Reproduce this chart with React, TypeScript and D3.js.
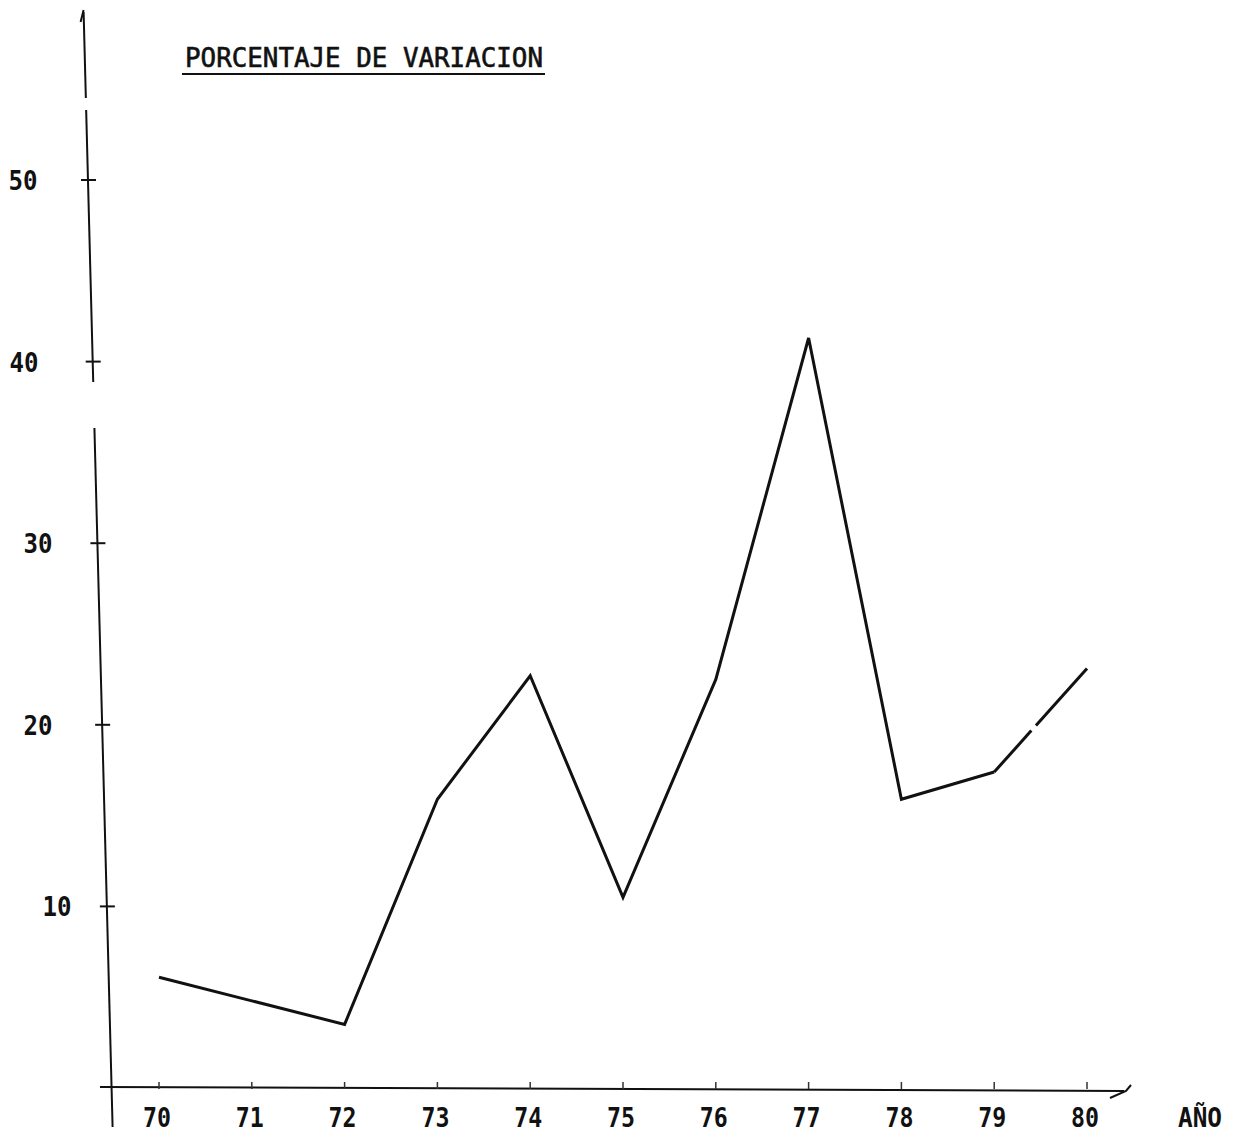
import React from "react";
import * as d3 from "d3";

const years = [70, 71, 72, 73, 74, 75, 76, 77, 78, 79, 80];
const variation = [6.1, 4.8, 3.5, 15.9, 22.7, 10.5, 22.5, 41.3, 15.9, 17.4, 23.1];
const yTicks = [10, 20, 30, 40, 50];
const xTickLabels = ["70", "71", "72", "73", "74", "75", "76", "77", "78", "79", "80"];
const title = "PORCENTAJE DE VARIACION";
const xAxisTitle = "AÑO";

const W = 1242;
const H = 1135;
const FONT = "'DejaVu Sans Mono', 'Liberation Mono', monospace";

export default function App() {
  const x = d3.scaleLinear().domain([70, 80]).range([159, 1087]);
  const y = d3.scaleLinear().domain([0, 50]).range([1088, 180]);
  // slanted hand-drawn y axis: x position as function of pixel y
  const axisX = (py: number) => 88 + (py - 181) * 0.026;

  const line = d3
    .line<number>()
    .x((_, i) => x(years[i]))
    .y((d) => y(d));

  const pts = variation.map((v, i) => [x(years[i]), y(v)] as [number, number]);
  const firstPart = line(variation.slice(0, 10))!;
  const [p9, p10] = [pts[9], pts[10]];
  const gapA = 0.4;
  const gapB = 0.45;
  const lastA = `M${p9[0]},${p9[1]}L${p9[0] + (p10[0] - p9[0]) * gapA},${p9[1] + (p10[1] - p9[1]) * gapA}`;
  const lastB = `M${p9[0] + (p10[0] - p9[0]) * gapB},${p9[1] + (p10[1] - p9[1]) * gapB}L${p10[0]},${p10[1]}`;

  const axisSegments: [number, number][] = [
    [12, 98],
    [110, 382],
    [428, 1127],
  ];

  const yLabelX: Record<number, number> = { 50: 23, 40: 24, 30: 38, 20: 38, 10: 57 };
  const axisY = y(0);

  return (
    <svg
      width={W}
      height={H}
      viewBox={`0 0 ${W} ${H}`}
      style={{ position: "absolute", left: 0, top: 0, background: "#fff" }}
    >
      <rect x={0} y={0} width={W} height={H} fill="#fff" />
      {/* Y axis */}
      {axisSegments.map(([a, b], i) => (
        <line key={i} x1={axisX(a)} y1={a} x2={axisX(b)} y2={b} stroke="#111" strokeWidth={2} />
      ))}
      <path d={`M${axisX(12) - 3},${22} L${axisX(12)},${10}`} stroke="#111" strokeWidth={2} fill="none" />
      {yTicks.map((t) => {
        const py = y(t);
        const ax = axisX(py);
        return (
          <g key={t}>
            <line x1={ax - 7} y1={py} x2={ax + 8} y2={py} stroke="#111" strokeWidth={2} />
            <text
              x={yLabelX[t]}
              y={py + 10}
              textAnchor="middle"
              fontFamily={FONT}
              fontWeight="bold"
              fontSize={27}
              textLength={29}
              lengthAdjust="spacingAndGlyphs"
              fill="#111"
            >
              {t}
            </text>
          </g>
        );
      })}
      {/* X axis */}
      <line x1={100} y1={axisY - 1} x2={1124} y2={axisY + 3} stroke="#111" strokeWidth={2} />
      <path d={`M1110,${axisY + 10} L1126,${axisY + 3} L1131,${axisY - 3}`} stroke="#111" strokeWidth={2} fill="none" />
      {years.map((yr, i) => (
        <g key={yr}>
          <line x1={x(yr)} y1={axisY - 6} x2={x(yr)} y2={axisY + 1} stroke="#333" strokeWidth={1.5} />
          <text
            x={x(yr) - 2}
            y={1127}
            textAnchor="middle"
            fontFamily={FONT}
            fontWeight="bold"
            fontSize={27}
            textLength={28}
            lengthAdjust="spacingAndGlyphs"
            fill="#111"
          >
            {xTickLabels[i]}
          </text>
        </g>
      ))}
      <text
        x={1200}
        y={1127}
        textAnchor="middle"
        fontFamily={FONT}
        fontWeight="bold"
        fontSize={27}
        textLength={44}
        lengthAdjust="spacingAndGlyphs"
        fill="#111"
      >
        {xAxisTitle}
      </text>
      {/* Title */}
      <text
        x={185}
        y={67}
        fontFamily={FONT}
        fontSize={27}
        textLength={358}
        lengthAdjust="spacingAndGlyphs"
        fill="#111"
        stroke="#111"
        strokeWidth={0.6}
      >
        {title}
      </text>
      <line x1={182} y1={74} x2={545} y2={74} stroke="#111" strokeWidth={2} />
      {/* Data line */}
      <path d={firstPart} fill="none" stroke="#111" strokeWidth={3} strokeLinejoin="miter" />
      <path d={lastA} fill="none" stroke="#111" strokeWidth={3} />
      <path d={lastB} fill="none" stroke="#111" strokeWidth={3} />
    </svg>
  );
}
